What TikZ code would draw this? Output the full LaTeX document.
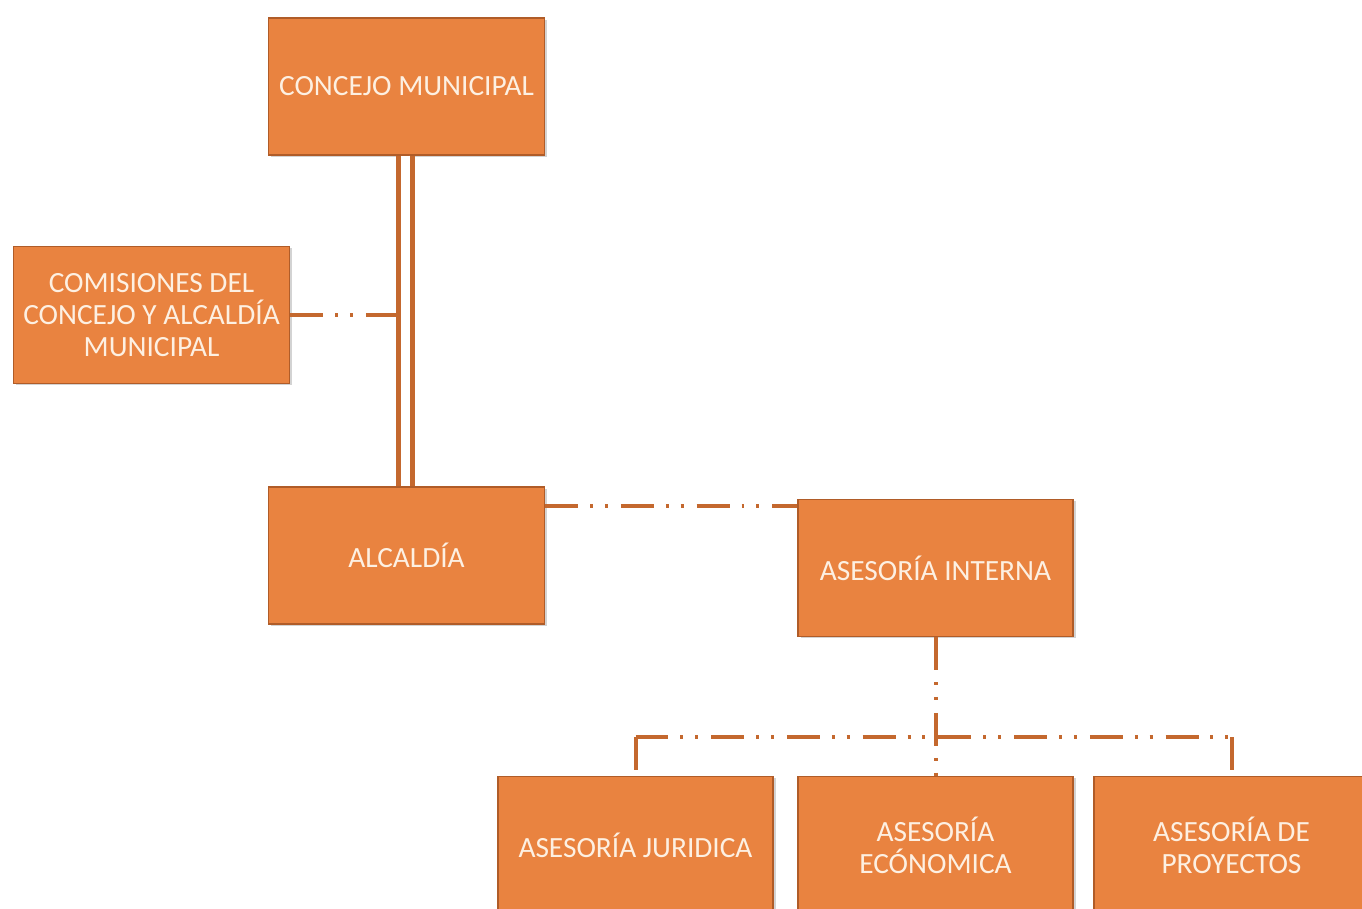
\documentclass[tikz,border=0pt]{standalone}
\usepackage{fontspec}
\setmainfont{Carlito}
\usetikzlibrary{positioning,calc,shadows}
\definecolor{box}     {RGB}{233,131, 64}
\definecolor{boxedge} {RGB}{176, 92, 40}
\definecolor{link}    {RGB}{196,104, 46}
\definecolor{boxtext} {RGB}{253,240,226}

\begin{document}
\begin{tikzpicture}[
  font={\fontsize{16.7}{18.2}\selectfont},
  unit/.style={fill=box,draw=boxedge,line width=0.8pt,text=boxtext,align=center,inner sep=2pt,
    minimum width=5.52cm,minimum height=2.74cm,
    drop shadow={shadow xshift=1.5pt,shadow yshift=-1pt,opacity=0.35}},
  rail/.style={draw=link,line width=0.1cm,double=white,double distance=0.17cm},
  advice/.style={draw=link,line width=0.08cm,
    dash pattern=on 18.7pt off 6.8pt on 1.7pt off 6.8pt on 1.7pt off 7.4pt},
]

  % Page size of the scan
  \useasboundingbox (0,0) rectangle (27.24,-18.18);

  \node[unit] (concejo) at (8.13,-1.73) {CONCEJO MUNICIPAL};

  \node[unit] (comisiones) at (3.03,-6.30) {COMISIONES DEL\\CONCEJO Y ALCALDÍA\\MUNICIPAL};

  \node[unit] (alcaldia) at (8.13,-11.11) {ALCALDÍA};

  \node[unit,minimum width=5.5cm] (interna) at (18.71,-11.36) {ASESORÍA INTERNA};

  \node[unit,minimum width=5.5cm] (juridica) at (12.71,-16.9) {ASESORÍA JURIDICA};
  \node[unit,minimum width=5.5cm] (economica) at (18.71,-16.9) {ASESORÍA\\ECÓNOMICA};
  \node[unit,minimum width=5.5cm] (proyectos) at (24.63,-16.9) {ASESORÍA DE\\PROYECTOS};

  % Ends of the bus over the three advisors
  \coordinate (busL) at (12.71,-14.74);
  \coordinate (busR) at (24.63,-14.74);

  % Line of command
  \draw[rail] ([xshift=-0.02cm]concejo.south) -- ([xshift=-0.02cm]alcaldia.north);

  % Advisory lines
  \draw[advice] (comisiones.east) -- ([xshift=-0.155cm]comisiones.east -| concejo.south);
  \draw[advice] ([yshift=-0.4cm]alcaldia.north east) -- ([yshift=-0.4cm]alcaldia.north east -| interna.west);
  \draw[advice] (interna.south) -- (economica.north);
  \draw[advice] (busL) -- (busR);
  \draw[advice] (busL) -- (juridica.north);
  \draw[advice] (busR) -- (proyectos.north);

\end{tikzpicture}
\end{document}
